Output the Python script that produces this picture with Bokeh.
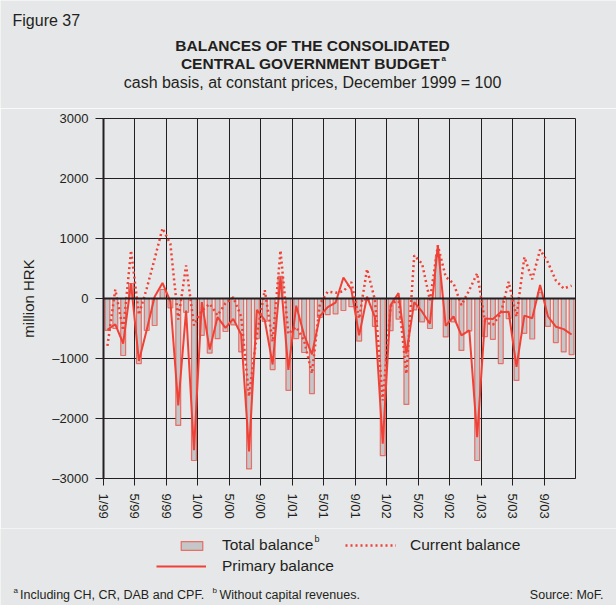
from bokeh.plotting import figure
from bokeh.layouts import column
from bokeh.models import (Range1d, FixedTicker, Span, Label, Legend, LegendItem,
                          ColumnDataSource)
from bokeh.embed import file_html
from bokeh.resources import INLINE

# ---------------- data (million HRK, monthly 1/1999 - 12/2003) ----------------
months = [f"{m}/{y:02d}" for y in (99, 0, 1, 2, 3) for m in range(1, 13)]

total_balance = [
    -530, -500, -950, 250, -1085, -530, -450, 150, -155, -2115, -230, -2700,
    -615, -910, -670, -550, -440, -890, -2840, -670, -380, -1185, 370, -1530,
    -670, -900, -1585, -315, -270, -255, -200, -135, -710, -30, -465, -2620,
    -535, -344, -1765, -190, -390, -500, 700, -640, -390, -865, -540, -2700,
    -635, -680, -1085, -335, -1365, -580, -675, 100, -465, -735, -890, -935,
]
current_balance = [
    -790, 150, -530, 800, -270, 170, 660, 1170, 910, -350, 550, -450,
    -200, -90, -280, -80, 20, -300, -1630, -600, 140, -720, 800, -590,
    -475, -700, -1250, -90, 115, 95, 120, 275, -335, 490, -20, -1700,
    -130, 10, -1255, 720, 580, -30, 885, 360, 250, -110, 140, 420,
    -390, -440, -250, 280, -300, 690, 320, 815, 600, 300, 165, 215,
]
primary_balance = [
    -520, -430, -750, 250, -1040, -520, 30, 260, -50, -1780, -200, -2530,
    -60, -850, -310, -490, -340, -600, -2550, -190, -360, -1100, 360, -1190,
    -120, -610, -930, -295, -145, -70, 350, 150, -615, 30, -310, -2420,
    -110, 90, -920, -60, -220, -420, 885, -455, -300, -615, -530, -2310,
    -335, -340, -230, -220, -1140, -285, -330, 225, -300, -470, -510, -600,
]
tick_positions = list(range(0, 60, 4))
tick_labels = ["1/99", "5/99", "9/99", "1/00", "5/00", "9/00", "1/01", "5/01",
               "9/01", "1/02", "5/02", "9/02", "1/03", "5/03", "9/03"]
y_ticks = [-3000, -2000, -1000, 0, 1000, 2000, 3000]

# ---------------- style ----------------
BG = "#e6e7e8"
DARK = "#231f20"
RED = "#ef4136"
BARFILL = "#c5c6c8"
FONT = "Liberation Sans"
W = 616
HEAD_H, MAIN_H, FOOT_H = 108, 420, 77

src = ColumnDataSource(dict(
    x=[i + 0.5 for i in range(len(months))],
    month=months,
    total=total_balance,
    current=current_balance,
    primary=primary_balance,
))

BAR_STYLE = dict(fill_color=BARFILL, line_color=RED, line_alpha=0.7, line_width=1.2)
PRIM_STYLE = dict(line_color=RED, line_width=2)
CURR_STYLE = dict(line_color=RED, line_width=2.5, line_dash="2 3")


def blank(height):
    f = figure(width=W, height=height, output_backend="svg", toolbar_location=None,
               title=None, x_axis_type=None, y_axis_type=None,
               x_range=Range1d(0, W), y_range=Range1d(height, 0),
               min_border=0, min_border_left=0, min_border_right=0,
               min_border_top=0, min_border_bottom=0, frame_align=False,
               background_fill_color=BG, border_fill_color=BG,
               outline_line_color=None)
    f.grid.visible = False
    return f


def lab(f, text, x, y, size="15px", style="normal", align="left"):
    f.add_layout(Label(x=x, y=y, text=text, text_font=FONT, text_font_size=size,
                       text_font_style=style, text_color=DARK, text_align=align,
                       text_baseline="middle"))


# ---------------- header ----------------
head = blank(HEAD_H)
lab(head, "Figure 37", 12, 20, "16px")
lab(head, "BALANCES OF THE CONSOLIDATED", 312, 45, "15.5px", "bold", "center")
lab(head, "CENTRAL GOVERNMENT BUDGET", 310, 63, "15.5px", "bold", "center")
lab(head, "a", 441, 58, "8px", "bold")
lab(head, "cash basis, at constant prices, December 1999 = 100", 312, 82, "16px",
    "normal", "center")

# ---------------- main chart ----------------
p = figure(width=W, height=MAIN_H, output_backend="svg", toolbar_location=None,
           title=None, x_range=Range1d(0, 60), y_range=Range1d(-3000, 3000),
           min_border_left=103, min_border_right=W - 103 - 472,
           min_border_top=10, min_border_bottom=MAIN_H - 10 - 360, frame_align=False,
           background_fill_color=BG, border_fill_color=BG,
           outline_line_color=DARK, outline_line_width=1)

p.xgrid.ticker = FixedTicker(ticks=list(range(0, 61, 4)))
p.ygrid.ticker = FixedTicker(ticks=y_ticks)
for g in (p.xgrid, p.ygrid):
    g.grid_line_color = DARK
    g.grid_line_width = 1
    g.grid_line_alpha = 1

p.xaxis.ticker = FixedTicker(ticks=tick_positions)
p.xaxis.major_label_overrides = {t: l for t, l in zip(tick_positions, tick_labels)}
p.xaxis.major_label_orientation = "vertical"
p.xaxis.major_tick_out = 7
p.xaxis.major_tick_in = 0
p.xaxis.major_label_standoff = 8
p.yaxis.ticker = FixedTicker(ticks=y_ticks)
p.yaxis.major_label_overrides = {t: (str(t) if t >= 0 else "\u2013" + str(-t)) for t in y_ticks}
p.yaxis.major_tick_out = 8
p.yaxis.major_tick_in = 0
p.yaxis.major_label_standoff = 7
p.yaxis.axis_line_width = 2
p.yaxis.axis_label = "million HRK"
p.yaxis.axis_label_standoff = 12
p.yaxis.axis_label_text_font = FONT
p.yaxis.axis_label_text_font_size = "15px"
p.yaxis.axis_label_text_font_style = "normal"
p.yaxis.axis_label_text_color = DARK
for ax in (p.xaxis, p.yaxis):
    ax.axis_line_color = DARK
    ax.major_tick_line_color = DARK
    ax.minor_tick_line_color = None
    ax.major_label_text_font = FONT
    ax.major_label_text_font_size = "13px"
    ax.major_label_text_color = DARK

p.vbar(x="x", top="total", bottom=0, width=0.62, source=src, **BAR_STYLE)
p.line(x="x", y="primary", source=src, **PRIM_STYLE)
p.line(x="x", y="current", source=src, **CURR_STYLE)
p.add_layout(Span(location=0, dimension="width", line_color=DARK, line_width=2))

# ---------------- footer: legend + notes ----------------
foot = blank(FOOT_H)
# placeholder source (one missing point) so that legend swatches can be drawn
nan = float("nan")
legend_src = ColumnDataSource(dict(x=[nan], y=[nan]))
lg_bar = foot.vbar(x="x", top="y", width=1, source=legend_src, **BAR_STYLE)
lg_curr = foot.line(x="x", y="y", source=legend_src, **CURR_STYLE)
lg_prim = foot.line(x="x", y="y", source=legend_src, **PRIM_STYLE)


def legend(item_label, rend, vx, vy, gw, gh, standoff):
    lg = Legend(items=[LegendItem(label=item_label, renderers=[rend])],
                location=(vx, vy), orientation="horizontal",
                glyph_width=gw, glyph_height=gh, label_height=gh,
                label_standoff=standoff, padding=0, margin=0, spacing=0,
                border_line_color=None, background_fill_alpha=0,
                label_text_font=FONT, label_text_font_size="15.5px",
                label_text_color=DARK)
    foot.add_layout(lg, "center")


legend("Total balance", lg_bar, 178, FOOT_H - 26, 27, 11, 17)
legend("Current balance", lg_curr, 345, FOOT_H - 26, 51, 18, 14)
legend("Primary balance", lg_prim, 156, FOOT_H - 47, 50, 18, 16)
lab(foot, "b", 314, 10, "9px")

lab(foot, "a", 13, 62, "8px")
lab(foot, "Including CH, CR, DAB and CPF.", 19.5, 66, "12.5px")
lab(foot, "b", 212, 62, "8px")
lab(foot, "Without capital revenues.", 219, 66, "12.5px")
lab(foot, "Source: MoF.", 603, 66, "12.5px", "normal", "right")

layout = column(head, p, foot, spacing=0)
open("out.html", "w").write(file_html(layout, INLINE))
